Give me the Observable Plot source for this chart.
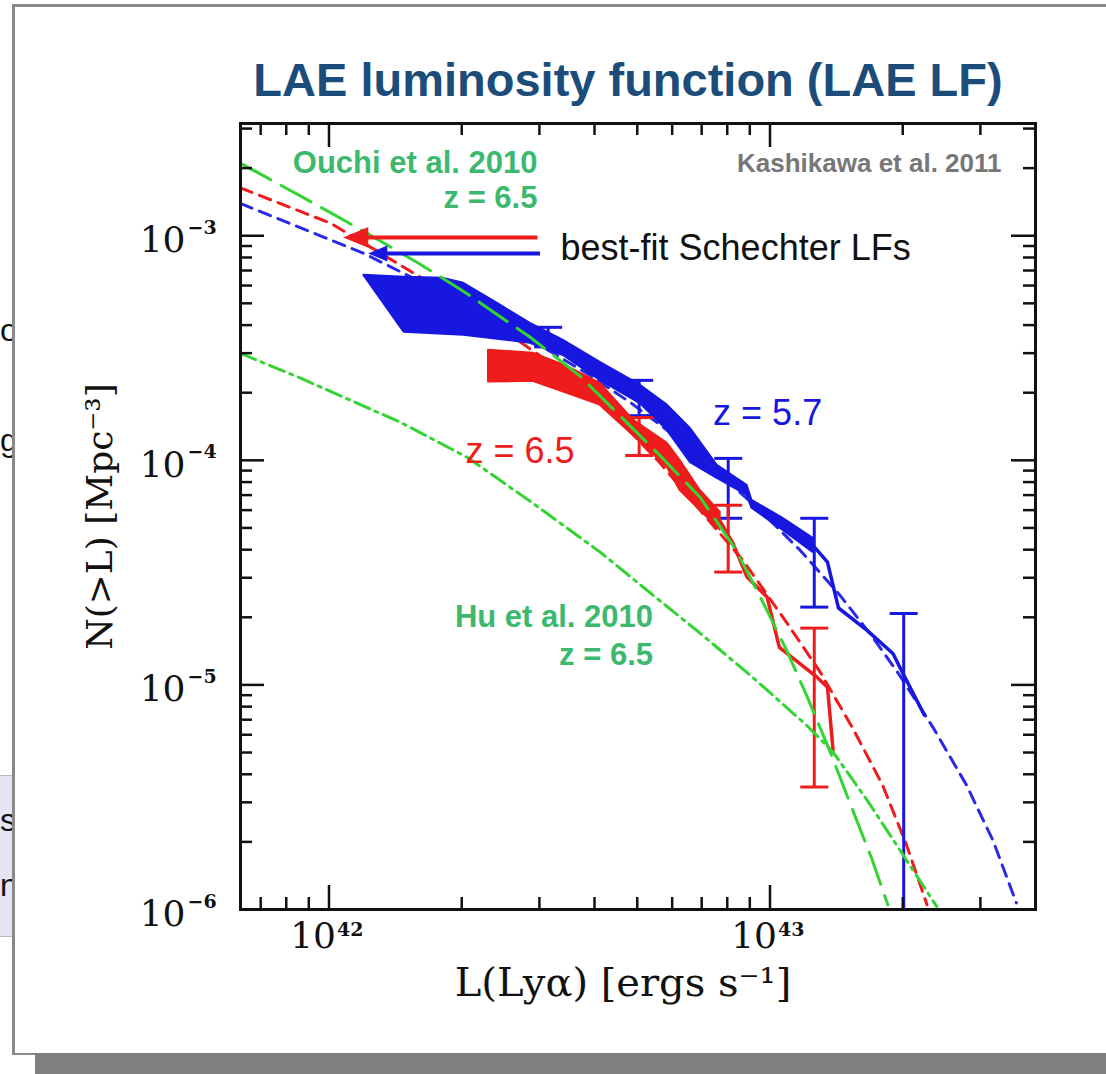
<!DOCTYPE html>
<html>
<head>
<meta charset="utf-8">
<script src="https://cdn.jsdelivr.net/npm/d3@7"></script>
<script src="https://cdn.jsdelivr.net/npm/@observablehq/plot@0.6"></script>
<style>
  html, body { margin:0; padding:0; background:#fff; }
  #page { position:relative; width:1106px; height:1074px; overflow:hidden; background:#fff; }
  .frag { position:absolute; left:0; font-family:"Liberation Sans", Arial, sans-serif; font-size:32px; line-height:36px; color:#111; white-space:nowrap; }
  #box { position:absolute; left:0; top:775px; width:40px; height:160px; background:#e4e4f4; border-top:1px solid #b8b8c8; border-bottom:1px solid #b8b8c8; }
  #slide { position:absolute; left:12px; top:4px; width:1100px; height:1046px; background:#fff; border-left:3px solid #8a8a8a; border-top:3px solid #8a8a8a; border-bottom:2px solid #8a8a8a; }
  #shadow { position:absolute; left:35px; top:1053px; width:1071px; height:21px; background:#7f7f7f; }
  #title { position:absolute; left:628px; top:52px; transform:translateX(-50%); font-family:"Liberation Sans", Arial, sans-serif; font-weight:bold; font-size:47px; line-height:56px; color:#1b4c7a; white-space:nowrap; }
  #chart { position:absolute; left:20px; top:100px; }
</style>
</head>
<body>
<div id="page">
  <div id="box"></div>
  <div class="frag" style="top:312px;">o</div>
  <div class="frag" style="top:422px;">g</div>
  <div class="frag" style="top:802px;">s</div>
  <div class="frag" style="top:867px;">ni</div>
  <div id="slide"></div>
  <div id="shadow"></div>
  <div id="title">LAE luminosity function (LAE LF)</div>
  <div id="chart"></div>
</div>
<script>
// ---------- axes ----------
const xDomain = [6.3e41, 4.0e43];
const yDomain = [1e-6, 3.16e-3];
const xMajor = [1e42, 1e43];
const xMinor = [7e41, 8e41, 9e41, 2e42, 3e42, 4e42, 5e42, 6e42, 7e42, 8e42, 9e42, 2e43, 3e43];
const yMajor = [1e-5, 1e-4, 1e-3];
const yMinor = [2e-6, 3e-6, 4e-6, 5e-6, 6e-6, 7e-6, 8e-6, 9e-6,
                2e-5, 3e-5, 4e-5, 5e-5, 6e-5, 7e-5, 8e-5, 9e-5,
                2e-4, 3e-4, 4e-4, 5e-4, 6e-4, 7e-4, 8e-4, 9e-4,
                2e-3, 3e-3];
const xLabelTicks = [1e42, 1e43];
const xLabelExps = ["42", "43"];
const yLabelTicks = [1e-3, 1e-4, 1e-5, 1e-6];
const yLabelExps = ["\u22123", "\u22124", "\u22125", "\u22126"];

// ---------- best-fit Schechter LFs (short dash) ----------
const redFitL = [6.31e41, 1.01e42, 1.70e42, 2.62e42, 3.40e42, 4.34e42, 5.64e42, 6.94e42, 8.68e42, 1.09e43, 1.30e43, 1.54e43, 1.80e43, 2.04e43, 2.27e43];
const redFitN = [1.63e-3, 1.135e-3, 6.14e-4, 3.53e-4, 2.47e-4, 1.67e-4, 9.70e-5, 6.00e-5, 3.59e-5, 1.90e-5, 1.14e-5, 6.42e-6, 3.58e-6, 1.94e-6, 1.05e-6];
const blueFitL = [6.31e41, 1.20e42, 1.59e42, 2.20e42, 3.01e42, 3.91e42, 4.82e42, 5.94e42, 7.43e42, 9.49e42, 1.17e43, 1.44e43, 1.71e43, 1.97e43, 2.34e43, 2.79e43, 3.20e43, 3.62e43];
const blueFitN = [1.39e-3, 8.34e-4, 6.32e-4, 4.65e-4, 3.25e-4, 2.39e-4, 1.81e-4, 1.33e-4, 9.22e-5, 5.99e-5, 3.98e-5, 2.51e-5, 1.63e-5, 1.10e-5, 6.49e-6, 3.58e-6, 2.04e-6, 1.07e-6];

// ---------- Ouchi et al. 2010 (long dash) and Hu et al. 2010 (dash-dot) ----------
const ouchiL = [6.31e41, 8.63e41, 1.20e42, 1.61e42, 2.02e42, 2.86e42, 3.71e42, 4.51e42, 5.63e42, 6.94e42, 8.33e42, 9.49e42, 1.09e43, 1.21e43, 1.37e43, 1.54e43, 1.70e43, 1.85e43];
const ouchiN = [2.10e-3, 1.50e-3, 1.046e-3, 7.46e-4, 5.65e-4, 3.53e-4, 2.37e-4, 1.62e-4, 1.05e-4, 6.85e-5, 4.06e-5, 2.48e-5, 1.43e-5, 9.00e-6, 5.02e-6, 2.77e-6, 1.69e-6, 1.05e-6];
const huL = [6.31e41, 8.63e41, 1.26e42, 1.45e42, 2.06e42, 2.90e42, 4.12e42, 5.43e42, 6.94e42, 9.14e42, 1.21e43, 1.39e43, 1.66e43, 1.97e43, 2.39e43];
const huN = [2.99e-4, 2.32e-4, 1.67e-4, 1.48e-4, 1.03e-4, 6.44e-5, 3.90e-5, 2.51e-5, 1.70e-5, 1.08e-5, 6.62e-6, 5.02e-6, 3.07e-6, 1.84e-6, 1.03e-6];

// ---------- observed cumulative LFs: z = 5.7 (blue) ----------
const blueBandL  = [1.20e42, 1.48e42, 1.82e42, 2.02e42, 2.41e42, 2.86e42, 3.40e42, 4.12e42, 5.08e42, 5.85e42, 6.59e42, 7.59e42, 8.87e42, 9.10e42, 1.07e43, 1.25e43];
const blueBandHi = [6.66e-4, 6.53e-4, 6.46e-4, 6.14e-4, 5.00e-4, 4.07e-4, 3.42e-4, 2.73e-4, 2.16e-4, 1.76e-4, 1.39e-4, 9.51e-5, 7.74e-5, 6.64e-5, 5.52e-5, 4.50e-5];
const blueBandLo = [6.66e-4, 3.72e-4, 3.64e-4, 3.60e-4, 3.46e-4, 3.32e-4, 2.93e-4, 2.27e-4, 1.79e-4, 1.36e-4, 9.80e-5, 8.32e-5, 6.99e-5, 6.12e-5, 4.89e-5, 3.90e-5];
const blueLineL = [1.25e43, 1.35e43, 1.43e43, 1.66e43, 1.90e43, 2.00e43, 2.24e43];
const blueLineN = [4.19e-5, 3.52e-5, 2.20e-5, 1.75e-5, 1.38e-5, 1.13e-5, 7.33e-6];
const blueErrL  = [3.14e42, 5.05e42, 8.04e42, 1.26e43, 2.01e43];
const blueErrHi = [3.91e-4, 2.27e-4, 1.02e-4, 5.52e-5, 2.08e-5];
const blueErrLo = [3.20e-4, 1.58e-4, 5.52e-5, 2.22e-5, 1.0e-6];

// ---------- observed cumulative LFs: z = 6.5 (red) ----------
const redBandL  = [2.30e42, 2.90e42, 3.47e42, 4.12e42, 4.90e42, 5.85e42, 6.25e42, 6.94e42, 7.71e42];
const redBandHi = [3.09e-4, 3.00e-4, 2.62e-4, 2.20e-4, 1.51e-4, 1.19e-4, 1.00e-4, 7.36e-5, 5.87e-5];
const redBandLo = [2.23e-4, 2.25e-4, 1.99e-4, 1.76e-4, 1.29e-4, 9.31e-5, 7.36e-5, 5.99e-5, 4.89e-5];
const redLineL = [7.71e42, 8.24e42, 8.87e42, 9.85e42, 1.05e43, 1.28e43, 1.35e43, 1.39e43];
const redLineN = [5.35e-5, 4.28e-5, 3.02e-5, 2.46e-5, 1.47e-5, 1.08e-5, 9.77e-6, 5.13e-6];
const redErrL  = [5.05e42, 8.04e42, 1.26e43];
const redErrHi = [1.55e-4, 6.31e-5, 1.79e-5];
const redErrLo = [1.05e-4, 3.18e-5, 3.51e-6];

// ---------- build tables ----------
const rows = (L, N) => L.map((l, i) => ({L: l, N: N[i]}));
const band = (L, hi, lo) => L.map((l, i) => ({L: l, hi: hi[i], lo: lo[i]}));

const RED = "#ee1c1c", BLUE = "#1717e0", BLUEFIT = "#2a2ae6", LIME = "#33d433", GTEXT = "#3cb96e";
const innerW = 795, innerH = 786, major = 24, minor = 12;
const tick = {stroke: "#111", strokeWidth: 2.5};

const cap = {draw(ctx, size) { const w = Math.sqrt(size); ctx.moveTo(-w / 2, 0); ctx.lineTo(w / 2, 0); }};
const leftTri = {draw(ctx, size) { const s = Math.sqrt(size); ctx.moveTo(-0.6 * s, 0); ctx.lineTo(0.6 * s, -0.5 * s); ctx.lineTo(0.6 * s, 0.5 * s); ctx.closePath(); }};

const blueErr = band(blueErrL, blueErrHi, blueErrLo);
const redErr = band(redErrL, redErrHi, redErrLo);
const sans = "Liberation Sans, Arial, sans-serif";

function errMarks(data, color) {
  return [
    Plot.ruleX(data, {x: "L", y1: "lo", y2: "hi", stroke: color, strokeWidth: 3}),
    Plot.dot(data, {x: "L", y: "hi", symbol: cap, r: 15.8, stroke: color, strokeWidth: 3, fill: "none"}),
    Plot.dot(data.filter(d => d.lo > yDomain[0]), {x: "L", y: "lo", symbol: cap, r: 15.8, stroke: color, strokeWidth: 3, fill: "none"})
  ];
}

const chart = Plot.plot({
  width: 1080, height: 930,
  marginLeft: 220, marginRight: 65, marginTop: 23, marginBottom: 121,
  style: {background: "transparent", overflow: "visible", fontFamily: sans},
  x: {type: "log", domain: xDomain, axis: null},
  y: {type: "log", domain: yDomain, axis: null},
  marks: [
    // best-fit Schechter
    Plot.line(rows(redFitL, redFitN), {x: "L", y: "N", stroke: RED, strokeWidth: 3, strokeDasharray: "12,8"}),
    Plot.line(rows(blueFitL, blueFitN), {x: "L", y: "N", stroke: BLUEFIT, strokeWidth: 3, strokeDasharray: "12,8"}),
    // observed z=5.7
    Plot.areaY(band(blueBandL, blueBandHi, blueBandLo), {x: "L", y1: "lo", y2: "hi", fill: BLUE, stroke: BLUE, strokeWidth: 2}),
    Plot.line(rows(blueLineL, blueLineN), {x: "L", y: "N", stroke: BLUE, strokeWidth: 3.5}),
    ...errMarks(blueErr, BLUE),
    // observed z=6.5
    Plot.areaY(band(redBandL, redBandHi, redBandLo), {x: "L", y1: "lo", y2: "hi", fill: RED, stroke: RED, strokeWidth: 2}),
    Plot.line(rows(redLineL, redLineN), {x: "L", y: "N", stroke: RED, strokeWidth: 3.5}),
    ...errMarks(redErr, RED),
    // literature LFs
    Plot.line(rows(ouchiL, ouchiN), {x: "L", y: "N", stroke: LIME, strokeWidth: 3, strokeDasharray: "34,12"}),
    Plot.line(rows(huL, huN), {x: "L", y: "N", stroke: LIME, strokeWidth: 3, strokeDasharray: "16,6,3,6"}),
    // arrows pointing to the fits
    Plot.link([{a: 2.97e42, b: 1.18e42, n: 9.83e-4}], {x1: "a", x2: "b", y1: "n", y2: "n", stroke: RED, strokeWidth: 4}),
    Plot.dot([{a: 1.15e42, n: 9.83e-4}], {x: "a", y: "n", symbol: leftTri, r: 11.8, fill: RED, stroke: "none"}),
    Plot.link([{a: 3.01e42, b: 1.35e42, n: 8.34e-4}], {x1: "a", x2: "b", y1: "n", y2: "n", stroke: BLUE, strokeWidth: 4}),
    Plot.dot([{a: 1.29e42, n: 8.34e-4}], {x: "a", y: "n", symbol: leftTri, r: 9, fill: BLUE, stroke: "none"}),
    // frame and inward ticks on all four sides
    Plot.frame({stroke: "#111", strokeWidth: 3}),
    Plot.ruleX(xMajor, {x: d => d, insetBottom: innerH - major, ...tick}),
    Plot.ruleX(xMajor, {x: d => d, insetTop: innerH - major, ...tick}),
    Plot.ruleX(xMinor, {x: d => d, insetBottom: innerH - minor, ...tick}),
    Plot.ruleX(xMinor, {x: d => d, insetTop: innerH - minor, ...tick}),
    Plot.ruleY(yMajor, {y: d => d, insetRight: innerW - major, ...tick}),
    Plot.ruleY(yMajor, {y: d => d, insetLeft: innerW - major, ...tick}),
    Plot.ruleY(yMinor, {y: d => d, insetRight: innerW - minor, ...tick}),
    Plot.ruleY(yMinor, {y: d => d, insetLeft: innerW - minor, ...tick}),
    // tick labels
    Plot.text(xLabelTicks, {x: d => d, text: () => "10", frameAnchor: "bottom", textAnchor: "end", dx: 7, dy: 38, fontSize: 36, fontFamily: "DejaVu Serif", fill: "#111"}),
    Plot.text(xLabelTicks, {x: d => d, text: (d, i) => xLabelExps[i], frameAnchor: "bottom", textAnchor: "start", dx: 8, dy: 26, fontSize: 19, fontWeight: "bold", fontFamily: "DejaVu Serif", fill: "#111"}),
    Plot.text(yLabelTicks, {y: d => d, text: () => "10", frameAnchor: "left", textAnchor: "end", dx: -55, dy: 5, fontSize: 36, fontFamily: "DejaVu Serif", fill: "#111"}),
    Plot.text(yLabelTicks, {y: d => d, text: (d, i) => yLabelExps[i], frameAnchor: "left", textAnchor: "start", dx: -53, dy: -8, fontSize: 19, fontWeight: "bold", fontFamily: "DejaVu Serif", fill: "#111"}),
    // axis titles
    Plot.text(["N(>L) [Mpc\u207B\u00B3]"], {text: d => d, frameAnchor: "left", textAnchor: "middle", dx: -140, rotate: -90, fontSize: 36, fontFamily: "DejaVu Serif", fill: "#111"}),
    Plot.text(["L(Ly\u03B1) [ergs s\u207B\u00B9]"], {text: d => d, frameAnchor: "bottom", textAnchor: "middle", dx: -15, dy: 86, fontSize: 40, fontFamily: "DejaVu Serif", fill: "#111"}),
    // annotations
    Plot.text([{L: 2.97e42, N: 2.10e-3, t: "Ouchi et al. 2010"}, {L: 2.97e42, N: 1.47e-3, t: "z = 6.5"}], {x: "L", y: "N", text: "t", textAnchor: "end", fontSize: 31, fontWeight: "bold", fill: GTEXT}),
    Plot.text([{L: 5.43e42, N: 2.00e-5, t: "Hu et al. 2010"}, {L: 5.43e42, N: 1.36e-5, t: "z = 6.5"}], {x: "L", y: "N", text: "t", textAnchor: "end", fontSize: 31, fontWeight: "bold", fill: GTEXT}),
    Plot.text([{L: 3.35e43, N: 2.10e-3, t: "Kashikawa et al. 2011"}], {x: "L", y: "N", text: "t", textAnchor: "end", fontSize: 26, fontWeight: "bold", fill: "#777"}),
    Plot.text([{L: 3.35e42, N: 8.78e-4, t: "best-fit Schechter LFs"}], {x: "L", y: "N", text: "t", textAnchor: "start", fontSize: 36, fill: "#111"}),
    Plot.text([{L: 7.43e42, N: 1.62e-4, t: "z = 5.7"}], {x: "L", y: "N", text: "t", textAnchor: "start", fontSize: 36, fill: BLUE}),
    Plot.text([{L: 2.04e42, N: 1.09e-4, t: "z = 6.5"}], {x: "L", y: "N", text: "t", textAnchor: "start", fontSize: 36, fill: RED})
  ]
});
document.getElementById("chart").appendChild(chart);
</script>
</body>
</html>
